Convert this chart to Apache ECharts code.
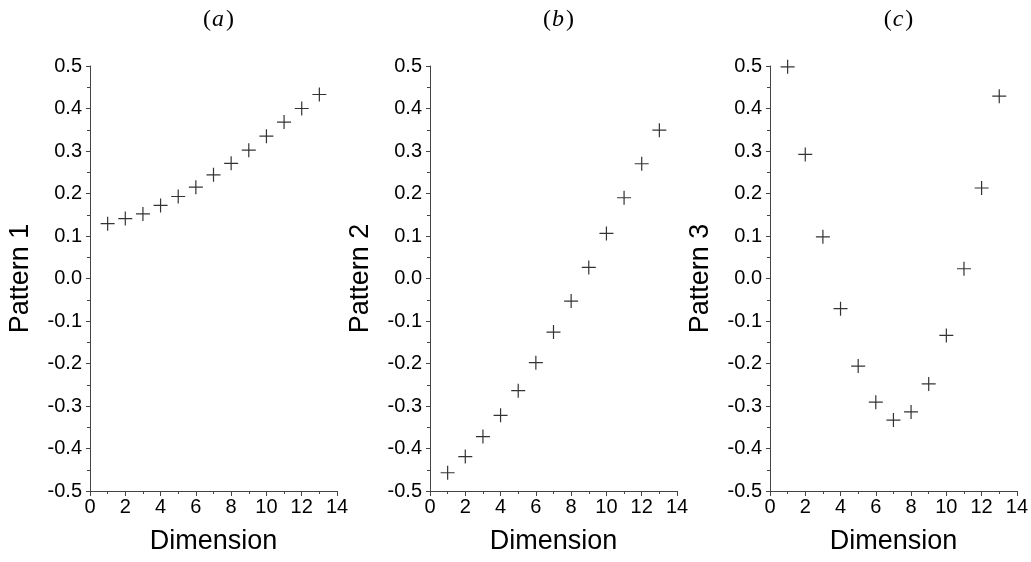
<!DOCTYPE html>
<html>
<head>
<meta charset="utf-8">
<script src="https://cdn.jsdelivr.net/npm/echarts@6/dist/echarts.min.js"></script>
<style>html,body{margin:0;padding:0;background:#fff;}#c{width:1031px;height:562px;}</style>
</head>
<body>
<div id="c"></div>
<script>
const dimensions = [1, 2, 3, 4, 5, 6, 7, 8, 9, 10, 11, 12, 13];
const pattern1 = [0.129, 0.141, 0.152, 0.172, 0.193, 0.215, 0.244, 0.271, 0.302, 0.335, 0.368, 0.400, 0.433];
const pattern2 = [-0.457, -0.419, -0.372, -0.322, -0.264, -0.198, -0.126, -0.053, 0.026, 0.106, 0.190, 0.270, 0.349];
const pattern3 = [0.498, 0.292, 0.098, -0.071, -0.206, -0.291, -0.333, -0.314, -0.248, -0.134, 0.023, 0.213, 0.429];
const panelTitles = ['a', 'b', 'c'];
const yNames = ['Pattern 1', 'Pattern 2', 'Pattern 3'];
const xName = 'Dimension';
const allSeries = [pattern1, pattern2, pattern3];

const lefts = [90, 430, 770];
const W = 247;
const fontSans = 'Liberation Sans, Arial, sans-serif';
const fontSerif = 'Liberation Serif, DejaVu Serif, serif';
const axisCol = '#444';

const grids = [], xAxes = [], yAxes = [], series = [], titles = [];
for (let i = 0; i < 3; i++) {
  grids.push({left: lefts[i], width: W, top: 66, bottom: 71});
  titles.push({
    text: '{p|(}{l|' + panelTitles[i] + '}{p|)}',
    left: lefts[i] + W / 2, top: 3, textAlign: 'center',
    textStyle: {
      fontWeight: 'normal',
      rich: {
        p: {fontFamily: fontSerif, fontSize: 24, fontWeight: 'normal', color: '#000'},
        l: {fontFamily: fontSerif, fontStyle: 'italic', fontWeight: 'normal', fontSize: 24, color: '#000', padding: [0, 2, 0, 1]}
      }
    }
  });
  xAxes.push({
    type: 'value', gridIndex: i, min: 0, max: 14, interval: 2,
    name: xName, nameLocation: 'middle', nameGap: 37,
    nameTextStyle: {fontFamily: fontSans, fontSize: 27, color: '#000'},
    axisLine: {show: true, onZero: false, lineStyle: {color: axisCol, width: 1}},
    axisTick: {show: true, inside: false, length: 5, lineStyle: {color: axisCol}},
    minorTick: {show: true, splitNumber: 2, length: 3, lineStyle: {color: axisCol}},
    splitLine: {show: false},
    axisLabel: {fontFamily: fontSans, fontSize: 20, color: '#000', margin: 6}
  });
  yAxes.push({
    type: 'value', gridIndex: i, min: -0.5, max: 0.5, interval: 0.1,
    name: yNames[i], nameLocation: 'middle', nameGap: 56, nameRotate: 90,
    nameTextStyle: {fontFamily: fontSans, fontSize: 27, color: '#000'},
    axisLine: {show: true, onZero: false, lineStyle: {color: axisCol, width: 1}},
    axisTick: {show: true, inside: false, length: 4, lineStyle: {color: axisCol}},
    minorTick: {show: true, splitNumber: 2, length: 3, lineStyle: {color: axisCol}},
    splitLine: {show: false},
    axisLabel: {fontFamily: fontSans, fontSize: 20, color: '#000', margin: 8,
      formatter: v => (Math.abs(v) < 1e-9 ? 0 : v).toFixed(1)}
  });
  series.push({
    type: 'scatter', xAxisIndex: i, yAxisIndex: i,
    data: dimensions.map((d, k) => [d, allSeries[i][k]]),
    symbol: 'path://M7,0L7,14M0,7L14,7',
    symbolSize: 14,
    itemStyle: {color: 'none', borderColor: '#000', borderWidth: 1.2},
    emphasis: {disabled: true}
  });
}

const chart = echarts.init(document.getElementById('c'), null, {renderer: 'canvas'});
chart.setOption({
  animation: false,
  backgroundColor: '#fff',
  title: titles,
  grid: grids,
  xAxis: xAxes,
  yAxis: yAxes,
  series: series
});
</script>
</body>
</html>
